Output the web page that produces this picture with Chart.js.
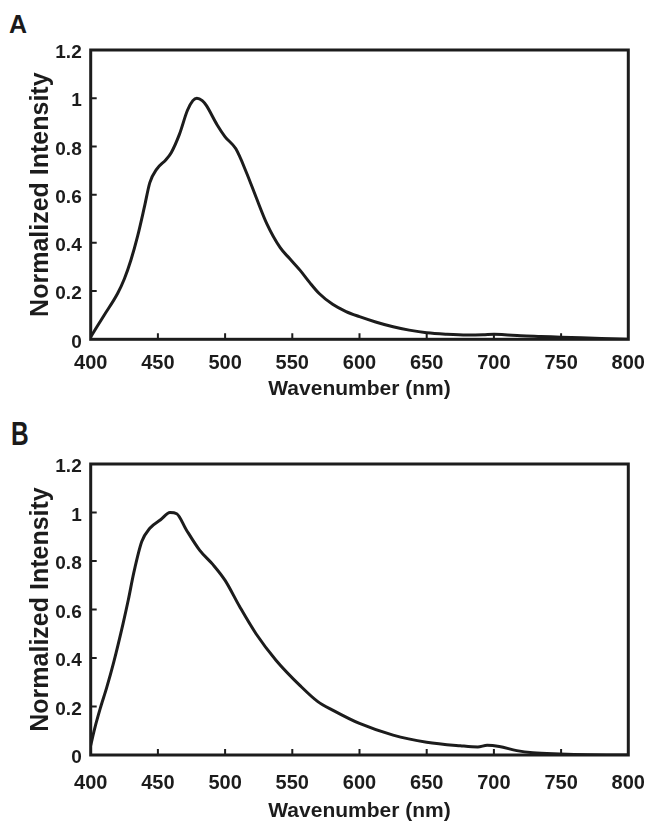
<!DOCTYPE html>
<html>
<head>
<meta charset="utf-8">
<script src="https://cdn.jsdelivr.net/npm/chart.js@4/dist/chart.umd.min.js"></script>
<style>
  body { margin: 0; background: #fff; }
  .wrap { position: relative; width: 646px; height: 826px; overflow: hidden; }
  .panel { position: absolute; left: 0; }
  .letter { position: absolute; font-family: 'Liberation Sans', Arial, sans-serif; font-weight: bold; color: #1a1a1a; line-height: 1; }
</style>
</head>
<body>
<div class="wrap">
  <div class="letter" style="left:9px; top:12px; font-size:25px;">A</div>
  <div class="letter" style="left:11px; top:416px; font-size:34px; transform-origin:0 0; transform:scaleX(0.72);">B</div>
  <canvas id="chartA" class="panel" style="top:0px;" width="646" height="410"></canvas>
  <canvas id="chartB" class="panel" style="top:415px;" width="646" height="411"></canvas>
</div>
<script>
// panel A spectrum
const wavelengthA = [400, 410, 420, 425, 430, 435, 440, 444, 449, 456, 460, 466, 472, 476, 479, 483, 486, 494, 500,
  508, 516, 523, 531, 541, 548, 556, 563, 570, 580, 590, 600, 612, 625, 637, 650, 665, 680, 692, 700, 708, 720, 735,
  750, 765, 780, 800];
const intensityA = [0.01, 0.10, 0.19, 0.25, 0.33, 0.43, 0.55, 0.65, 0.705, 0.745, 0.775, 0.85, 0.95, 0.99, 1.0, 0.99, 0.97,
  0.89, 0.84, 0.79, 0.69, 0.59, 0.48, 0.38, 0.335, 0.285, 0.235, 0.19, 0.145, 0.115, 0.094, 0.072, 0.052, 0.038, 0.027,
  0.021, 0.018, 0.019, 0.021, 0.019, 0.015, 0.012, 0.009, 0.006, 0.003, 0.0];

// panel B spectrum
const wavelengthB = [400, 403, 407, 412, 417, 424, 428, 432, 438, 444, 452, 459, 464, 471, 481, 491, 500, 511, 523, 538,
  556, 569, 580, 600, 625, 650, 675, 688, 695, 704, 717, 729, 749, 770, 800];
const intensityB = [0.04, 0.11, 0.19, 0.28, 0.38, 0.54, 0.64, 0.75, 0.88, 0.935, 0.97, 1.0, 0.995, 0.93, 0.845, 0.785,
  0.72, 0.61, 0.50, 0.39, 0.285, 0.22, 0.185, 0.13, 0.082, 0.053, 0.038, 0.033, 0.040, 0.035, 0.018, 0.009, 0.004,
  0.001, 0.0];

const xTicks = [400, 450, 500, 550, 600, 650, 700, 750, 800];
const yTicks = [0, 0.2, 0.4, 0.6, 0.8, 1, 1.2];

const fontFamily = "'Liberation Sans', Arial, sans-serif";
const ink = '#1c1c1c';

// box round the plot + short inward ticks
const framePlugin = {
  id: 'frame',
  afterDatasetsDraw(chart) {
    const { ctx, chartArea: a, scales: { x, y } } = chart;
    ctx.save();
    ctx.strokeStyle = ink;
    ctx.lineWidth = 3;
    ctx.strokeRect(a.left, a.top, a.right - a.left, a.bottom - a.top);
    ctx.lineWidth = 2;
    ctx.beginPath();
    x.ticks.forEach(t => {
      if (t.value > x.min && t.value < x.max) {
        const px = x.getPixelForValue(t.value);
        ctx.moveTo(px, a.bottom);
        ctx.lineTo(px, a.bottom - 6);
      }
    });
    y.ticks.forEach(t => {
      if (t.value > y.min && t.value < y.max) {
        const py = y.getPixelForValue(t.value);
        ctx.moveTo(a.left, py);
        ctx.lineTo(a.left + 6, py);
      }
    });
    ctx.stroke();
    ctx.restore();
  }
};

function makeChart(id, xs, ys, cfg) {
  const ctx = document.getElementById(id).getContext('2d');
  return new Chart(ctx, {
    type: 'line',
    data: {
      datasets: [{
        data: xs.map((v, i) => ({ x: v, y: ys[i] })),
        borderColor: ink,
        borderWidth: 3,
        pointRadius: 0,
        fill: false,
        cubicInterpolationMode: 'monotone'
      }]
    },
    options: {
      responsive: false,
      animation: false,
      devicePixelRatio: 1,
      layout: { padding: { top: cfg.top, right: 17.7, left: 0, bottom: 0 } },
      plugins: { legend: { display: false }, tooltip: { enabled: false } },
      scales: {
        x: {
          type: 'linear',
          min: 400, max: 800,
          afterBuildTicks: s => { s.ticks = xTicks.map(v => ({ value: v })); },
          afterFit: s => {
            s.height = cfg.xHeight;
            s.paddingLeft = 0;
            s.paddingRight = 0;
          },
          grid: { display: false, drawTicks: false },
          border: { display: false },
          ticks: {
            color: ink,
            padding: cfg.xPad,
            maxRotation: 0,
            font: { family: fontFamily, size: 20, weight: 'bold' }
          },
          title: {
            display: true,
            text: 'Wavenumber (nm)',
            color: ink,
            padding: { top: 0, bottom: cfg.titlePad },
            font: { family: fontFamily, size: 21, weight: 'bold' }
          }
        },
        y: {
          min: 0, max: 1.2,
          afterBuildTicks: s => { s.ticks = yTicks.map(v => ({ value: v })); },
          afterFit: s => {
            s.width = 90.7;
            s.paddingTop = 0;
            s.paddingBottom = 0;
          },
          grid: { display: false, drawTicks: false },
          border: { display: false },
          ticks: {
            color: ink,
            padding: 9,
            labelOffset: 3,
            callback: v => String(+v.toFixed(1)),
            font: { family: fontFamily, size: 19, weight: 'bold' }
          },
          title: {
            display: true,
            text: 'Normalized Intensity',
            color: ink,
            padding: { top: 26, bottom: 0 },
            font: { family: fontFamily, size: 25, weight: 'bold' }
          }
        }
      }
    },
    plugins: [framePlugin]
  });
}

makeChart('chartA', wavelengthA, intensityA, { top: 50, xHeight: 70.7, xPad: 12.5, titlePad: 8.4 });
makeChart('chartB', wavelengthB, intensityB, { top: 49, xHeight: 71, xPad: 16.8, titlePad: 2 });
</script>
</body>
</html>
